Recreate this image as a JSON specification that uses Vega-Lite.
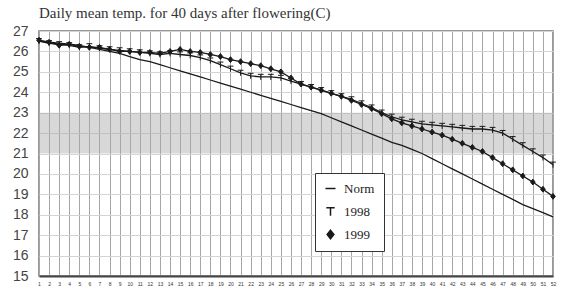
{
  "$schema": "https://vega.github.io/schema/vega-lite/v6.json",
  "autosize": {"type": "none"},
  "padding": {"left": 39, "top": 31, "right": 15, "bottom": 25},
  "width": 514,
  "height": 245,
  "background": "white",
  "title": {
    "text": "Daily mean temp. for 40 days after flowering(C)",
    "anchor": "start",
    "frame": "group",
    "offset": 3,
    "font": "Liberation Serif",
    "fontSize": 15,
    "fontWeight": "normal",
    "color": "#333"
  },
  "config": {
    "view": {"stroke": "#777", "strokeWidth": 1.5},
    "axis": {"zindex": 0},
    "legend": {
      "title": null,
      "orient": "none",
      "legendX": 276,
      "legendY": 142,
      "fillColor": "white",
      "strokeColor": "#333",
      "padding": 9,
      "rowPadding": 8,
      "symbolSize": 70,
      "symbolStrokeWidth": 1.5,
      "labelFont": "Liberation Serif",
      "labelFontSize": 13,
      "labelColor": "#222",
      "labelOffset": 7
    },
    "axisX": {
      "title": null,
      "labelFontSize": 5,
      "labelFont": "Liberation Sans",
      "labelColor": "#333",
      "labelOverlap": false,
      "labelFlush": false,
      "labelPadding": 5,
      "ticks": false,
      "grid": true,
      "gridColor": "#a6a6a6",
      "gridWidth": 1,
      "domain": true,
      "domainColor": "#444",
      "domainWidth": 2
    },
    "axisY": {
      "title": null,
      "labelOverlap": false,
      "labelFont": "Liberation Sans",
      "labelFontSize": 14,
      "labelColor": "#444",
      "labelPadding": 11,
      "ticks": false,
      "domain": false,
      "grid": true,
      "gridColor": "#d4d4d4",
      "gridWidth": 1
    }
  },
  "datasets": {
    "temps": [
      {"day":0,"series":"Norm","temp":26.5},{"day":1,"series":"Norm","temp":26.45},{"day":2,"series":"Norm","temp":26.4},{"day":3,"series":"Norm","temp":26.35},{"day":4,"series":"Norm","temp":26.3},{"day":5,"series":"Norm","temp":26.2},{"day":6,"series":"Norm","temp":26.1},{"day":7,"series":"Norm","temp":26.0},{"day":8,"series":"Norm","temp":25.9},{"day":9,"series":"Norm","temp":25.75},{"day":10,"series":"Norm","temp":25.6},{"day":11,"series":"Norm","temp":25.5},{"day":12,"series":"Norm","temp":25.35},{"day":13,"series":"Norm","temp":25.2},{"day":14,"series":"Norm","temp":25.05},{"day":15,"series":"Norm","temp":24.9},{"day":16,"series":"Norm","temp":24.75},{"day":17,"series":"Norm","temp":24.6},{"day":18,"series":"Norm","temp":24.45},{"day":19,"series":"Norm","temp":24.3},{"day":20,"series":"Norm","temp":24.15},{"day":21,"series":"Norm","temp":24.0},{"day":22,"series":"Norm","temp":23.85},{"day":23,"series":"Norm","temp":23.7},{"day":24,"series":"Norm","temp":23.55},{"day":25,"series":"Norm","temp":23.4},{"day":26,"series":"Norm","temp":23.25},{"day":27,"series":"Norm","temp":23.1},{"day":28,"series":"Norm","temp":22.95},{"day":29,"series":"Norm","temp":22.75},{"day":30,"series":"Norm","temp":22.55},{"day":31,"series":"Norm","temp":22.35},{"day":32,"series":"Norm","temp":22.15},{"day":33,"series":"Norm","temp":21.95},{"day":34,"series":"Norm","temp":21.75},{"day":35,"series":"Norm","temp":21.55},{"day":36,"series":"Norm","temp":21.4},{"day":37,"series":"Norm","temp":21.2},{"day":38,"series":"Norm","temp":21.0},{"day":39,"series":"Norm","temp":20.75},{"day":40,"series":"Norm","temp":20.5},{"day":41,"series":"Norm","temp":20.25},{"day":42,"series":"Norm","temp":20.0},{"day":43,"series":"Norm","temp":19.75},{"day":44,"series":"Norm","temp":19.5},{"day":45,"series":"Norm","temp":19.25},{"day":46,"series":"Norm","temp":19.0},{"day":47,"series":"Norm","temp":18.75},{"day":48,"series":"Norm","temp":18.5},{"day":49,"series":"Norm","temp":18.3},{"day":50,"series":"Norm","temp":18.1},{"day":51,"series":"Norm","temp":17.9},
      {"day":0,"series":"1998","temp":26.5},{"day":1,"series":"1998","temp":26.4},{"day":2,"series":"1998","temp":26.35},{"day":3,"series":"1998","temp":26.3},{"day":4,"series":"1998","temp":26.2},{"day":5,"series":"1998","temp":26.25},{"day":6,"series":"1998","temp":26.15},{"day":7,"series":"1998","temp":26.1},{"day":8,"series":"1998","temp":26.05},{"day":9,"series":"1998","temp":26.0},{"day":10,"series":"1998","temp":25.95},{"day":11,"series":"1998","temp":25.9},{"day":12,"series":"1998","temp":25.85},{"day":13,"series":"1998","temp":25.9},{"day":14,"series":"1998","temp":25.85},{"day":15,"series":"1998","temp":25.8},{"day":16,"series":"1998","temp":25.7},{"day":17,"series":"1998","temp":25.55},{"day":18,"series":"1998","temp":25.35},{"day":19,"series":"1998","temp":25.15},{"day":20,"series":"1998","temp":24.95},{"day":21,"series":"1998","temp":24.8},{"day":22,"series":"1998","temp":24.75},{"day":23,"series":"1998","temp":24.75},{"day":24,"series":"1998","temp":24.7},{"day":25,"series":"1998","temp":24.55},{"day":26,"series":"1998","temp":24.4},{"day":27,"series":"1998","temp":24.25},{"day":28,"series":"1998","temp":24.1},{"day":29,"series":"1998","temp":23.95},{"day":30,"series":"1998","temp":23.8},{"day":31,"series":"1998","temp":23.65},{"day":32,"series":"1998","temp":23.45},{"day":33,"series":"1998","temp":23.25},{"day":34,"series":"1998","temp":23.0},{"day":35,"series":"1998","temp":22.8},{"day":36,"series":"1998","temp":22.65},{"day":37,"series":"1998","temp":22.55},{"day":38,"series":"1998","temp":22.45},{"day":39,"series":"1998","temp":22.4},{"day":40,"series":"1998","temp":22.35},{"day":41,"series":"1998","temp":22.3},{"day":42,"series":"1998","temp":22.25},{"day":43,"series":"1998","temp":22.2},{"day":44,"series":"1998","temp":22.2},{"day":45,"series":"1998","temp":22.15},{"day":46,"series":"1998","temp":22.0},{"day":47,"series":"1998","temp":21.7},{"day":48,"series":"1998","temp":21.4},{"day":49,"series":"1998","temp":21.1},{"day":50,"series":"1998","temp":20.8},{"day":51,"series":"1998","temp":20.45},
      {"day":0,"series":"1999","temp":26.55},{"day":1,"series":"1999","temp":26.45},{"day":2,"series":"1999","temp":26.3},{"day":3,"series":"1999","temp":26.35},{"day":4,"series":"1999","temp":26.25},{"day":5,"series":"1999","temp":26.2},{"day":6,"series":"1999","temp":26.2},{"day":7,"series":"1999","temp":26.1},{"day":8,"series":"1999","temp":26.0},{"day":9,"series":"1999","temp":26.0},{"day":10,"series":"1999","temp":25.95},{"day":11,"series":"1999","temp":25.95},{"day":12,"series":"1999","temp":25.9},{"day":13,"series":"1999","temp":26.0},{"day":14,"series":"1999","temp":26.1},{"day":15,"series":"1999","temp":26.0},{"day":16,"series":"1999","temp":25.95},{"day":17,"series":"1999","temp":25.85},{"day":18,"series":"1999","temp":25.75},{"day":19,"series":"1999","temp":25.6},{"day":20,"series":"1999","temp":25.5},{"day":21,"series":"1999","temp":25.4},{"day":22,"series":"1999","temp":25.3},{"day":23,"series":"1999","temp":25.15},{"day":24,"series":"1999","temp":25.0},{"day":25,"series":"1999","temp":24.7},{"day":26,"series":"1999","temp":24.4},{"day":27,"series":"1999","temp":24.25},{"day":28,"series":"1999","temp":24.1},{"day":29,"series":"1999","temp":23.95},{"day":30,"series":"1999","temp":23.8},{"day":31,"series":"1999","temp":23.6},{"day":32,"series":"1999","temp":23.4},{"day":33,"series":"1999","temp":23.2},{"day":34,"series":"1999","temp":22.95},{"day":35,"series":"1999","temp":22.7},{"day":36,"series":"1999","temp":22.5},{"day":37,"series":"1999","temp":22.35},{"day":38,"series":"1999","temp":22.2},{"day":39,"series":"1999","temp":22.05},{"day":40,"series":"1999","temp":21.9},{"day":41,"series":"1999","temp":21.7},{"day":42,"series":"1999","temp":21.5},{"day":43,"series":"1999","temp":21.3},{"day":44,"series":"1999","temp":21.1},{"day":45,"series":"1999","temp":20.8},{"day":46,"series":"1999","temp":20.5},{"day":47,"series":"1999","temp":20.2},{"day":48,"series":"1999","temp":19.9},{"day":49,"series":"1999","temp":19.6},{"day":50,"series":"1999","temp":19.25},{"day":51,"series":"1999","temp":18.9}
    ],
    "band": [{"lo": 21, "hi": 23}]
  },
  "layer": [
    {
      "data": {"name": "band"},
      "mark": {"type": "rect", "fill": "#a8a8a8", "opacity": 0.45},
      "encoding": {
        "y": {"field": "lo", "type": "quantitative", "scale": {"domain": [15, 27], "nice": false, "zero": false},
              "axis": {"values": [15,16,17,18,19,20,21,22,23,24,25,26,27]}},
        "y2": {"field": "hi"}
      }
    },
    {
      "data": {"name": "temps"},
      "mark": {"type": "line", "color": "#1a1a1a", "strokeWidth": 1.3},
      "encoding": {
        "x": {
          "field": "day", "type": "quantitative",
          "scale": {"domain": [0, 51], "nice": false, "zero": false},
          "axis": {
            "values": [0,1,2,3,4,5,6,7,8,9,10,11,12,13,14,15,16,17,18,19,20,21,22,23,24,25,26,27,28,29,30,31,32,33,34,35,36,37,38,39,40,41,42,43,44,45,46,47,48,49,50,51],
            "labelExpr": "datum.value + 1"
          }
        },
        "y": {
          "field": "temp", "type": "quantitative",
          "scale": {"domain": [15, 27], "nice": false, "zero": false},
          "axis": {"values": [15,16,17,18,19,20,21,22,23,24,25,26,27]}
        },
        "detail": {"field": "series"}
      }
    },
    {
      "data": {"name": "temps"},
      "transform": [{"filter": "datum.series !== 'Norm'"}],
      "mark": {"type": "point", "filled": false, "strokeWidth": 1, "size": 34, "opacity": 1},
      "encoding": {
        "x": {"field": "day", "type": "quantitative",
              "axis": {
                "values": [0,1,2,3,4,5,6,7,8,9,10,11,12,13,14,15,16,17,18,19,20,21,22,23,24,25,26,27,28,29,30,31,32,33,34,35,36,37,38,39,40,41,42,43,44,45,46,47,48,49,50,51],
                "labelExpr": "datum.value + 1"
              }},
        "y": {"field": "temp", "type": "quantitative",
              "axis": {"values": [15,16,17,18,19,20,21,22,23,24,25,26,27]}},
        "color": {
          "field": "series", "type": "nominal",
          "scale": {"domain": ["Norm", "1998", "1999"], "range": ["#1a1a1a", "#1a1a1a", "#1a1a1a"]}
        },
        "shape": {
          "field": "series", "type": "nominal",
          "scale": {
            "domain": ["Norm", "1998", "1999"],
            "range": ["M-1.2,0L1.2,0", "M-1,-0.9L1,-0.9M0,-0.9L0,1", "M0,-1L0.8,0L0,1L-0.8,0Z"]
          }
        },
        "fill": {
          "field": "series", "type": "nominal",
          "scale": {"domain": ["Norm", "1998", "1999"], "range": ["#1a1a1a", "#1a1a1a", "#1a1a1a"]}
        }
      }
    }
  ]
}
